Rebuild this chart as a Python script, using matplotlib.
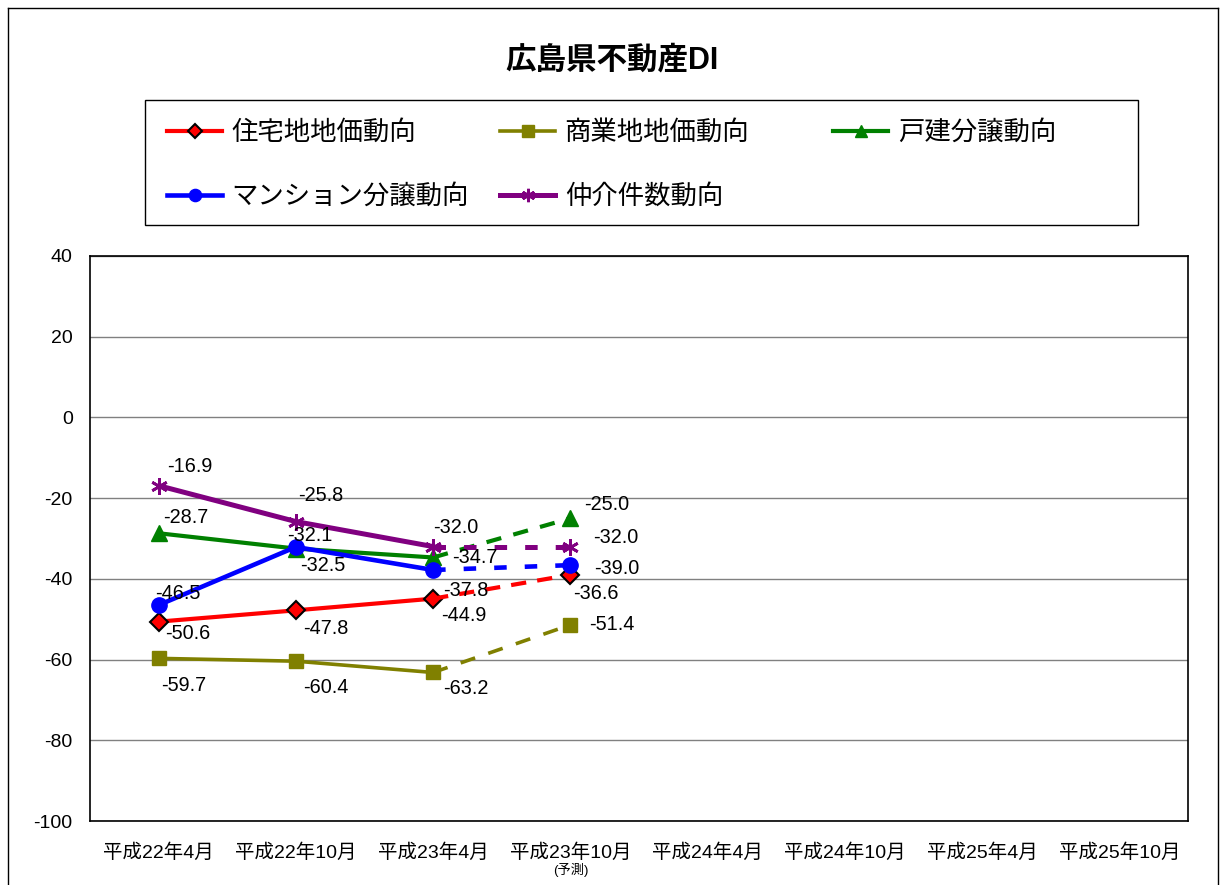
import matplotlib
matplotlib.use('Agg')
import matplotlib.pyplot as plt
from matplotlib.lines import Line2D
from matplotlib.patches import Rectangle

plt.rcParams['font.family'] = ['Liberation Sans', 'Noto Sans CJK JP', 'DejaVu Sans']
plt.rcParams['lines.scale_dashes'] = False
plt.rcParams['axes.unicode_minus'] = False

# データ
kikan = ['平成22年4月', '平成22年10月', '平成23年4月', '平成23年10月',
         '平成24年4月', '平成24年10月', '平成25年4月', '平成25年10月']
jutaku = [-50.6, -47.8, -44.9, -39.0]
shogyo = [-59.7, -60.4, -63.2, -51.4]
kodate = [-28.7, -32.5, -34.7, -25.0]
mansion = [-46.5, -32.1, -37.8, -36.6]
chukai = [-16.9, -25.8, -32.0, -32.0]
# ラベル (元の図のとおり、予測値のラベルは入れ替わっている)
jutaku_lbl = ['-50.6', '-47.8', '-44.9', '-36.6']
mansion_lbl = ['-46.5', '-32.1', '-37.8', '-39.0']

fig = plt.figure(figsize=(12.2, 8.85), dpi=100)
ax = fig.add_axes([90/1220, 1-821/885, 1098/1220, 565/885])

x = list(range(len(jutaku)))

# datos, etiquetas, nombre, color, marker, tamaño, grosor, guiones, offsets de etiquetas (px)
series = [
    (jutaku, jutaku_lbl, '住宅地地価動向', '#FF0000', 'D', 9, 3.0, (11, 8),
     [(6, -12), (7, -18), (8, -17), (3, -19)]),
    (shogyo, None, '商業地地価動向', '#808000', 's', 10.5, 2.6, (11, 10),
     [(3, -27), (7, -26), (10, -16), (19, 0)]),
    (kodate, None, '戸建分譲動向', '#008000', '^', 11, 3.0, (11, 9),
     [(4, 16), (4, -17), (19, 0), (14, 14)]),
    (mansion, mansion_lbl, 'マンション分譲動向', '#0000FF', 'o', 11, 3.3, (9, 13),
     [(-4, 12), (-9, 11), (10, -21), (24, -3)]),
    (chukai, None, '仲介件数動向', '#800080', (6, 2, 0), 12, 3.6, (9, 13),
     [(9, 19), (2, 26), (0, 19), (23, 9)]),
]

handles = []
for vals, lbls, name, col, mk, ms, lw, dsh, offs in series:
    ec = 'black' if mk == 'D' else col
    mew = 1.5 if mk == 'D' else (2 if mk == (6, 2, 0) else 1)
    # tramo real (solido)
    ax.plot(x[:3], vals[:3], color=col, lw=lw, marker=mk, ms=ms,
            mfc=col, mec=ec, mew=mew, solid_capstyle='butt')
    # tramo de prevision (discontinuo)
    ax.plot(x[2:4], vals[2:4], color=col, lw=lw, dashes=dsh,
            dash_capstyle='butt', marker=mk, ms=ms, mfc=col, mec=ec,
            mew=mew, markevery=[1])
    if lbls is None:
        lbls = ['%.1f' % v for v in vals]
    for xi, v, t, (dx, dy) in zip(x, vals, lbls, offs):
        ax.annotate(t, (xi, v), xytext=(dx, dy), textcoords='offset pixels',
                    ha='left', va='center', fontsize=14.3)
    handles.append(Line2D([], [], color=col, lw=lw, marker=mk, ms=ms * 0.8,
                          mfc=col, mec=ec, mew=mew))

ax.set_xlim(-0.5, len(kikan) - 0.5)
ax.set_ylim(-100, 40)
ax.set_yticks(range(-100, 41, 20))
ax.set_xticks(range(len(kikan)))
ax.set_xticklabels(kikan, fontsize=14)
ax.tick_params(axis='y', labelsize=14, length=0, pad=12.5)
ax.tick_params(axis='x', length=0, pad=16)
ax.grid(axis='y', color='#808080', lw=1)
ax.set_axisbelow(True)
for s in ax.spines.values():
    s.set_color('black')
    s.set_linewidth(1.2)

ax.text(3, -0.087, '(予測)', transform=ax.get_xaxis_transform(),
        ha='center', va='center', fontsize=9.5)

# titulo
fig.text(612/1220, 1-60/885, '広島県不動産DI', ha='center', va='center',
         fontsize=22, fontweight='bold')

# leyenda: tres columnas de igual ancho, como en el original
fig.add_artist(Rectangle((145/1220, 1-225/885), 993/1220, 125/885,
                         transform=fig.transFigure, fill=False,
                         edgecolor='black', lw=1))
columnas = [[0, 3], [1, 4], [2]]
for k, idx in enumerate(columnas):
    lg = fig.legend([handles[i] for i in idx], [series[i][2] for i in idx],
                    loc='upper left',
                    bbox_to_anchor=((167 + 333 * k)/1220, 1-120/885),
                    fontsize=19, handlelength=2.1, handletextpad=0.35,
                    labelspacing=1.5, borderpad=0, borderaxespad=0,
                    frameon=False)

# borde exterior del grafico
fig.add_artist(Line2D([8/1220, 8/1220], [0, 1-8/885], color='black', lw=1,
                      transform=fig.transFigure))
fig.add_artist(Line2D([8/1220, 1218/1220], [1-8/885, 1-8/885], color='black',
                      lw=1, transform=fig.transFigure))
fig.add_artist(Line2D([1218/1220, 1218/1220], [0, 1-8/885], color='black',
                      lw=1, transform=fig.transFigure))

fig.savefig('out.png', dpi=100)
